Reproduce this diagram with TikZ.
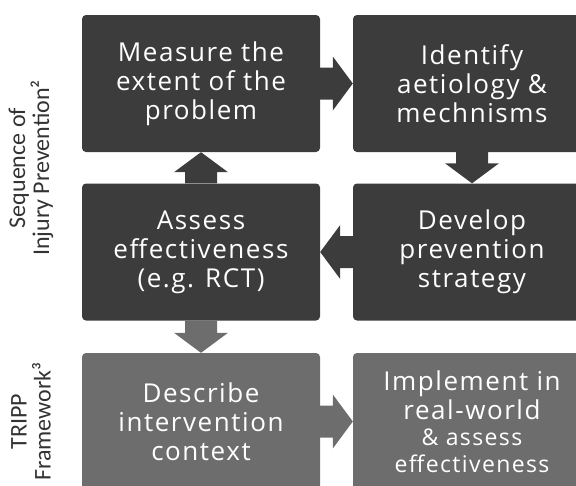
\documentclass[tikz,border=0pt]{standalone}
\usepackage{fontspec}
\usetikzlibrary{calc}
\newfontfamily\boxfont{Open Sans}[LetterSpace=6]
\newfontfamily\sidefont{Carlito}
\definecolor{boxdark}{HTML}{3C3C3C}
\definecolor{boxmid}{HTML}{6D6D6D}
\definecolor{sidetext}{HTML}{333333}

% Block arrow from one anchor to another: shaft 32pt, head 54pt wide, 20pt long
\newcommand\blockarrow[3]{%
  \path let \p1=(#2), \p2=(#3),
            \n1={atan2(\y2-\y1,\x2-\x1)},
            \n2={veclen(\x2-\x1,\y2-\y1)} in
    \pgfextra{\xdef\baAng{\n1}\xdef\baLen{\n2}\xdef\baX{\x1}\xdef\baY{\y1}};
  \pgfmathsetmacro\baLenN{\baLen+0}%
  \pgfmathsetmacro\baBase{\baLenN-20}%
  \fill[#1, shift={(\baX,\baY)}, rotate=\baAng]
    (0pt,16pt) -- (\baBase pt,16pt) -- (\baBase pt,27pt) -- (\baLenN pt,0pt)
    -- (\baBase pt,-27pt) -- (\baBase pt,-16pt) -- (0pt,-16pt) -- cycle;
}

\tikzset{
  stagebox/.style={fill=#1, draw=none, rounded corners=4pt,
    minimum width=238pt, minimum height=137pt, inner sep=0pt,
    text=white, align=center,
    font=\boxfont\fontsize{26}{29}\selectfont},
  sidelabel/.style={rotate=90, align=center, text=sidetext,
    font=\sidefont\fontsize{24}{24}\selectfont},
}

\begin{document}
\begin{tikzpicture}[x=1pt, y=-1pt]
  \useasboundingbox (0,0) rectangle (576,485);
  \clip (0,0) rectangle (576,485);

  % Sequence of injury prevention (dark stages)
  \node[stagebox=boxdark] (measure)  at (201,83.5) {Measure the\\extent of the\\problem};
  \node[stagebox=boxdark] (identify) at (472,83.5) {Identify\\aetiology \&\\mechnisms};
  \node[stagebox=boxdark] (assess)   at (201,252)  {Assess\\effectiveness\\(e.g. RCT)};
  \node[stagebox=boxdark] (develop)  at (472,252)  {Develop\\prevention\\strategy};

  % TRIPP framework (lighter stages)
  \node[stagebox=boxmid] (describe)  at (201,421.5) {Describe\\intervention\\context};
  \node[stagebox=boxmid] (implement) at (472,421.5)
    {Implement in\\real-world\\[-3pt]{\fontsize{23}{25}\selectfont \& assess}\\[-2pt]{\fontsize{23}{25}\selectfont effectiveness}};

  % Connecting block arrows
  \blockarrow{boxdark}{measure.east}{identify.west}
  \blockarrow{boxdark}{identify.south}{develop.north}
  \blockarrow{boxdark}{develop.west}{assess.east}
  \blockarrow{boxdark}{assess.north}{measure.south}
  \blockarrow{boxmid}{assess.south}{describe.north}
  \blockarrow{boxmid}{describe.east}{implement.west}

  % Row labels
  \node[sidelabel] (seqlabel)   at (31,168)   {Sequence of\\Injury Prevention²};
  \node[sidelabel] (tripplabel) at (31,421.5) {TRIPP\\Framework³};
\end{tikzpicture}
\end{document}
